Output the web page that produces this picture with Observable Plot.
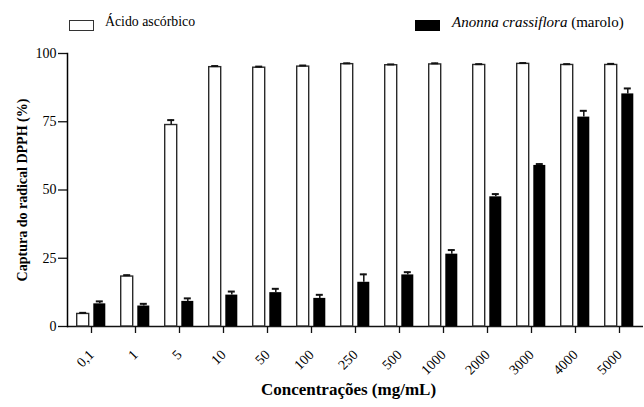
<!DOCTYPE html>
<html>
<head>
<meta charset="utf-8">
<script src="https://cdn.jsdelivr.net/npm/d3@7"></script>
<script src="https://cdn.jsdelivr.net/npm/@observablehq/plot@0.6"></script>
<style>
  html, body { margin: 0; padding: 0; background: #fff; }
  #wrap { width: 644px; font-family: "Liberation Serif", "Times New Roman", serif; color: #000; }
  #legend { position: relative; height: 40px; }
  .sw { position: absolute; top: 20px; width: 23px; height: 9px; }
  .lt { position: absolute; top: 14px; white-space: nowrap; }
</style>
</head>
<body>
<div id="wrap">
  <div id="legend">
    <div class="sw" style="left:69px; border:1.3px solid #333; background:#fff;"></div>
    <div class="lt" style="left:105px; font-size:13.8px;">Ácido ascórbico</div>
    <div class="sw" style="left:415px; width:25px; height:11px; background:#000;"></div>
    <div class="lt" style="left:452px; font-size:15px;"><i>Anonna crassiflora</i> (marolo)</div>
  </div>
  <div id="chart"></div>
</div>
<script>
const categories = ["0,1","1","5","10","50","100","250","500","1000","2000","3000","4000","5000"];
const acido      = [4.6, 18.3, 73.8, 95.0, 94.8, 95.2, 96.1, 95.7, 96.0, 95.8, 96.2, 95.8, 95.8];
const acidoErr   = [0.4, 0.5, 1.8, 0.4, 0.4, 0.4, 0.3, 0.3, 0.4, 0.3, 0.3, 0.3, 0.4];
const marolo     = [8.3, 7.5, 9.2, 11.5, 12.4, 10.3, 16.2, 18.9, 26.5, 47.5, 59.0, 76.7, 85.2];
const maroloErr  = [0.9, 0.8, 1.1, 1.3, 1.4, 1.3, 2.9, 1.0, 1.5, 1.0, 0.5, 2.3, 2.0];
const yTicks     = [0, 25, 50, 75, 100];

const A = categories.map((c, i) => ({c, v: acido[i], e: acidoErr[i]}));
const M = categories.map((c, i) => ({c, v: marolo[i], e: maroloErr[i]}));
const off = 8.3;

const chart = Plot.plot({
  width: 644,
  height: 367,
  marginTop: 13,
  marginBottom: 81,
  marginLeft: 67,
  marginRight: 1,
  style: {fontFamily: "'Liberation Serif', 'Times New Roman', serif", fontSize: "14px", color: "#000", background: "#fff"},
  x: {type: "band", domain: categories, paddingInner: 0.72, paddingOuter: 0.36},
  y: {domain: [0, 100]},
  marks: [
    Plot.ruleY([0], {stroke: "#111", strokeWidth: 1.4}),
    Plot.axisY({ticks: yTicks, tickSize: 9, tickPadding: 2, label: null, tickFormat: d => String(d), stroke: "#111", strokeWidth: 1.3}),
    Plot.axisX({tickSize: 7, tickPadding: 19, tickRotate: -45, label: null, stroke: "#111", strokeWidth: 1.3}),
    Plot.barY(A, {x: "c", y: "v", fill: "#fff", stroke: "#2a2a2a", strokeWidth: 1.4, dx: -off}),
    Plot.ruleX(A, {x: "c", y1: "v", y2: d => d.v + d.e, stroke: "#111", strokeWidth: 1.5, dx: -off}),
    Plot.tickY(A, {x: "c", y: d => d.v + d.e, stroke: "#111", strokeWidth: 2, dx: -off, inset: 2.5}),
    Plot.barY(M, {x: "c", y: "v", fill: "#000", dx: off}),
    Plot.ruleX(M, {x: "c", y1: "v", y2: d => d.v + d.e, stroke: "#111", strokeWidth: 1.5, dx: off}),
    Plot.tickY(M, {x: "c", y: d => d.v + d.e, stroke: "#111", strokeWidth: 2, dx: off, inset: 2.5}),
    Plot.text(["Captura do radical DPPH (%)"], {frameAnchor: "left", textAnchor: "middle", rotate: -90, dx: -45, fontWeight: "bold", fontSize: 14}),
    Plot.text(["Concentrações (mg/mL)"], {frameAnchor: "bottom", textAnchor: "middle", dy: 68, dx: -7, fontWeight: "bold", fontSize: 17}),
    Plot.frame({anchor: "left", stroke: "#000", strokeWidth: 1.5})
  ]
});
document.getElementById("chart").append(chart);
</script>
</body>
</html>
